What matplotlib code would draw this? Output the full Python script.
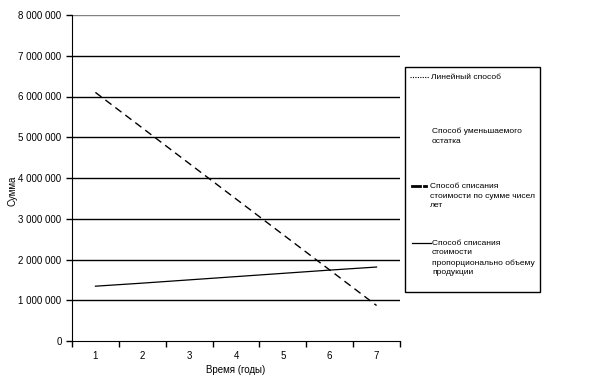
import numpy as np
import matplotlib.pyplot as plt
from matplotlib.lines import Line2D
from matplotlib.patches import Rectangle

plt.rcParams['font.family'] = ['Liberation Sans', 'DejaVu Sans']

years = [1, 2, 3, 4, 5, 6, 7]
# sum-of-years-digits method
sum_years = [6100000, 5229000, 4357000, 3486000, 2614000, 1743000, 871000]
# units-of-production method
production = [1345000, 1420000, 1500000, 1580000, 1660000, 1740000, 1815000]

fig = plt.figure(figsize=(6.13, 3.86), dpi=100)
ax = fig.add_axes([72/613, 1 - 341/386, 328/613, 326/386])

ax.plot(years, sum_years, color='black', lw=1.0, dashes=(5.5, 3.5))
ax.plot(years, production, color='black', lw=0.9)

ax.set_xlim(0.5, 7.5)
ax.set_ylim(0, 8000000)
yt = np.arange(0, 8000001, 1000000)
ax.set_yticks(yt)
ax.set_yticklabels(['{:,}'.format(v).replace(',', ' ') for v in yt], fontsize=7)
for v in yt[1:]:
    ax.axhline(v, color='black' if v < 8000000 else '#808080', lw=1.0, zorder=0)

ax.set_xticks(years)
ax.set_xticklabels([str(y) for y in years], fontsize=7)
ax.set_xticks(np.arange(0.5, 8, 1), minor=True)
ax.tick_params(axis='x', which='major', length=0, pad=7)
ax.tick_params(axis='x', which='minor', length=4, width=1)
ax.tick_params(axis='y', length=4, width=1)

ax.spines['top'].set_visible(False)
ax.spines['right'].set_visible(False)
ax.set_xlabel('Время (годы)', fontsize=7, labelpad=3)
ax.set_ylabel('Сумма', fontsize=7)
ax.yaxis.set_label_coords(-0.165, 0.46)

# legend box drawn in figure pixels
W, H = 613, 386
def fx(x): return x / W
def fy(y): return 1 - y / H

fig.patches.append(Rectangle((fx(405), fy(292)), fx(540) - fx(405), fy(67) - fy(292),
                             transform=fig.transFigure, fill=False, lw=1.0, color='black'))
fig.lines.append(Line2D([fx(410), fx(429)], [fy(77), fy(77)], transform=fig.transFigure,
                        color='black', lw=0.8, ls=(0, (1, 1.2))))
fig.lines.append(Line2D([fx(412), fx(420)], [fy(186), fy(186)], transform=fig.transFigure,
                        color='black', lw=2.0))
fig.lines.append(Line2D([fx(424), fx(426)], [fy(186), fy(186)], transform=fig.transFigure,
                        color='black', lw=2.0))
fig.lines.append(Line2D([fx(412), fx(431)], [fy(243), fy(243)], transform=fig.transFigure,
                        color='black', lw=0.9))

legend_text = [
    (431, 77, 'Линейный способ'),
    (432, 131, 'Способ уменьшаемого\nостатка'),
    (430, 186, 'Способ списания\nстоимости по сумме чисел\nлет'),
    (432, 243, 'Способ списания\nстоимости\nпропорционально объему\nпродукции'),
]
for x, y, s in legend_text:
    fig.text(fx(x), fy(y - 3), s, fontsize=6, ha='left', va='top', linespacing=1.5,
             transform=fig.transFigure)

fig.savefig('out.png', dpi=100)
